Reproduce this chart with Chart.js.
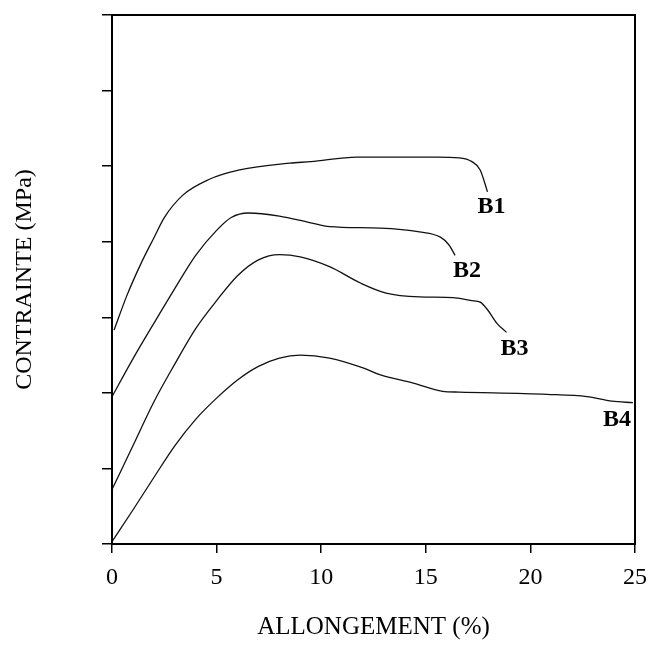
<!DOCTYPE html>
<html>
<head>
<meta charset="utf-8">
<script src="https://cdn.jsdelivr.net/npm/chart.js@4/dist/chart.umd.min.js"></script>
<style>
  html, body { margin: 0; padding: 0; background: #fff; }
  #wrap { width: 657px; height: 645px; }
</style>
</head>
<body>
<div id="wrap"><canvas id="c" width="657" height="645"></canvas></div>
<script>
// Stress–strain curves of samples B1..B4
const seriesNames = ['B1', 'B2', 'B3', 'B4'];

const b1Strain = [0.1, 0.7, 1.4, 2.0, 2.5, 3.4, 4.6, 6.1, 8.5, 9.5, 11.7, 13.6, 15.5, 16.6, 17.2, 17.6, 17.95];
const b1Stress = [2.83, 3.28, 3.72, 4.05, 4.32, 4.62, 4.82, 4.95, 5.04, 5.06, 5.12, 5.12, 5.12, 5.11, 5.06, 4.95, 4.66];

const b2Strain = [0, 1, 2, 3, 4, 5, 5.7, 6.5, 8.0, 9.5, 10.4, 12.8, 14.7, 15.7, 16.1, 16.4];
const b2Stress = [1.95, 2.45, 2.92, 3.38, 3.82, 4.15, 4.32, 4.38, 4.34, 4.25, 4.2, 4.18, 4.13, 4.06, 3.96, 3.82];

const b3Strain = [0, 1, 2, 3, 4, 5, 6, 7, 8.0, 9.0, 10.4, 11.9, 13.1, 14.7, 16.3, 17.2, 17.6, 17.95, 18.4, 18.86];
const b3Stress = [0.72, 1.3, 1.88, 2.38, 2.85, 3.22, 3.55, 3.76, 3.83, 3.80, 3.67, 3.45, 3.32, 3.27, 3.26, 3.22, 3.20, 3.10, 2.92, 2.80];

const b4Strain = [0, 1, 2, 3, 4, 5, 6, 7, 8, 9.0, 10.4, 12.0, 12.8, 14.4, 15.8, 16.6, 20.8, 22.7, 23.9, 24.9];
const b4Stress = [0.03, 0.45, 0.88, 1.3, 1.65, 1.93, 2.17, 2.35, 2.46, 2.5, 2.46, 2.33, 2.24, 2.13, 2.02, 2.01, 1.98, 1.95, 1.89, 1.87];

const xTicks = [0, 5, 10, 15, 20, 25];
const yTicks = [0, 1, 2, 3, 4, 5, 6, 7];

const strains = [b1Strain, b2Strain, b3Strain, b4Strain];
const stresses = [b1Stress, b2Stress, b3Stress, b4Stress];

// pixel offset of each curve name from the curve's last point
const nameOffsets = [[4, 15], [12, 15], [8, 16], [-16, 17]];

const SERIF = '"Liberation Serif", "DejaVu Serif", serif';

const datasets = seriesNames.map((name, i) => ({
  label: name,
  data: strains[i].map((x, k) => ({ x: x, y: stresses[i][k] })),
  borderColor: '#111',
  borderWidth: 1.3,
  pointRadius: 0,
  showLine: true,
  fill: false,
  cubicInterpolationMode: 'monotone'
}));

// frame around the plot area and the curve names
const framePlugin = {
  id: 'frameAndNames',
  afterDatasetsDraw(chart) {
    const { ctx, chartArea: a } = chart;
    ctx.save();
    ctx.strokeStyle = '#000';
    ctx.lineWidth = 2;
    ctx.strokeRect(a.left, a.top, a.right - a.left, a.bottom - a.top);

    ctx.fillStyle = '#000';
    ctx.font = 'bold 24px ' + SERIF;
    ctx.textAlign = 'center';
    ctx.textBaseline = 'middle';
    chart.data.datasets.forEach((ds, i) => {
      const last = ds.data[ds.data.length - 1];
      const px = chart.scales.x.getPixelForValue(last.x);
      const py = chart.scales.y.getPixelForValue(last.y);
      ctx.fillText(ds.label, px + nameOffsets[i][0], py + nameOffsets[i][1]);
    });
    ctx.restore();
  }
};

new Chart(document.getElementById('c'), {
  type: 'scatter',
  data: { datasets: datasets },
  options: {
    responsive: false,
    animation: false,
    layout: { padding: { left: 0, right: 20, top: 15, bottom: 0 } },
    plugins: { legend: { display: false }, tooltip: { enabled: false } },
    scales: {
      x: {
        type: 'linear',
        min: 0, max: 25,
        afterBuildTicks(scale) { scale.ticks = xTicks.map(v => ({ value: v })); },
        afterFit(scale) { scale.height = 101; },
        ticks: {
          color: '#000',
          padding: 10,
          font: { family: SERIF, size: 24 },
          callback: v => String(v)
        },
        grid: { drawOnChartArea: false, drawTicks: true, tickLength: 9, color: '#000', lineWidth: 1.5 },
        border: { display: true, color: '#000', width: 2 },
        title: {
          display: true,
          text: 'ALLONGEMENT (%)',
          color: '#000',
          font: { family: SERIF, size: 25 },
          padding: { top: 0, bottom: 3 }
        }
      },
      y: {
        type: 'linear',
        min: 0, max: 7,
        afterBuildTicks(scale) { scale.ticks = yTicks.map(v => ({ value: v })); },
        afterFit(scale) { scale.width = 112; },
        ticks: { display: false },
        grid: { drawOnChartArea: false, drawTicks: true, tickLength: 10, color: '#000', lineWidth: 1.5 },
        border: { display: true, color: '#000', width: 2 },
        title: {
          display: true,
          text: 'CONTRAINTE (MPa)',
          color: '#000',
          font: { family: SERIF, size: 24 },
          padding: { top: 10, bottom: 0 }
        }
      }
    }
  },
  plugins: [framePlugin]
});
</script>
</body>
</html>
